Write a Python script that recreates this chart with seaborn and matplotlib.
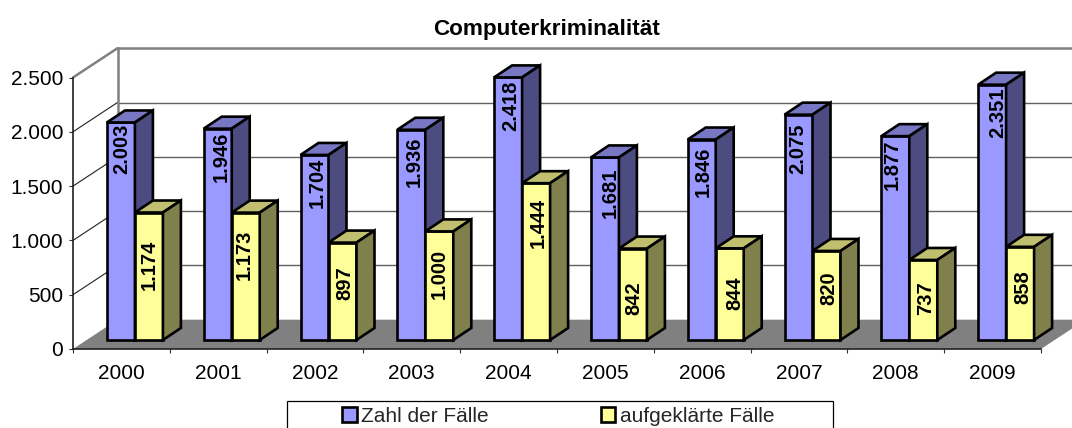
import numpy as np
import pandas as pd
import matplotlib
matplotlib.use('Agg')
import matplotlib.pyplot as plt
from matplotlib.patches import Polygon, Rectangle
import seaborn as sns

# Values
years = ['2000', '2001', '2002', '2003', '2004', '2005', '2006', '2007', '2008', '2009']
faelle = [2003, 1946, 1704, 1936, 2418, 1681, 1846, 2075, 1877, 2351]
aufgeklaert = [1174, 1173, 897, 1000, 1444, 842, 844, 820, 737, 858]
y_ticks = [0, 500, 1000, 1500, 2000, 2500]
series_names = ['Zahl der Fälle', 'aufgeklärte Fälle']

# Label nudges in pixels from the top centre of each bar (x right, y down)
nudge_blue = [(0.5, 26), (3.7, 28), (2.6, 28), (3, 32), (2.3, 28), (5.5, 35), (1.7, 32), (-0.6, 34), (-3, 29), (5.3, 28)]
nudge_yellow = [(0.5, 52), (-1.3, 42), (1.9, 41), (0, 43), (1.8, 40), (0.5, 50), (4.7, 45), (1.9, 37), (2.8, 38), (2.3, 40)]

W, H = 1072, 428
PX_X = 1 / 96.8  # one pixel in category units
PX_Y = 2500 / 271.5  # one pixel in value units

sns.set_theme(style='white')
plt.rcParams['font.family'] = ['Liberation Sans', 'DejaVu Sans']

df = pd.DataFrame({
    'jahr': years * 2,
    'wert': faelle + aufgeklaert,
    'serie': [series_names[0]] * 10 + [series_names[1]] * 10,
})


def fmt(v):
    return f'{v:,}'.replace(',', '.')


fig = plt.figure(figsize=(W / 100, H / 100), dpi=100, facecolor='white')
ax = fig.add_axes([73 / W, (H - 349) / H, 968 / W, 271.5 / H])

ax = sns.barplot(data=df, x='jahr', y='wert', hue='serie', ax=ax, width=0.5785, gap=0,
                 palette=['#9999FF', '#FFFF99'], saturation=1, edgecolor='black',
                 linewidth=1.9, zorder=3)
ax.set_xlim(-0.5, 9.5)
ax.set_ylim(0, 2500)
ax.set_xlabel('')
ax.set_ylabel('')

# Depth of the chart box and of the bars
box_x, box_y = 44.5 * PX_X, 29.3 * PX_Y
off_x, off_y = 13.5 * PX_X, 9 * PX_Y
bar_x, bar_y = 18 * PX_X, 12 * PX_Y

# Floor
ax.add_patch(Polygon([(-0.5, 0), (9.5, 0), (9.5 + box_x, box_y), (-0.5 + box_x, box_y)],
                     facecolor='#808080', edgecolor='none', zorder=1, clip_on=False))

# Back wall and gridlines
for t in y_ticks[1:]:
    top = t == 2500
    ax.plot([-0.5 + box_x, 9.5 + box_x], [t + box_y] * 2, color='#808080' if top else '#606060',
            lw=1.8 if top else 1.0, zorder=1, clip_on=False)
    ax.plot([-0.5, -0.5 + box_x], [t, t + box_y], color='#808080' if top else '#202020',
            lw=1.8 if top else 0.8, zorder=1, clip_on=False)
ax.plot([-0.5 + box_x] * 2, [box_y, 2500 + box_y], color='#808080', lw=1.8, zorder=1, clip_on=False)

# Turn the flat bars into boxes
styles = [('#7777C4', '#4C4C80'), ('#BFBF6F', '#80804C')]
nudges = [nudge_blue, nudge_yellow]
for k, cont in enumerate(ax.containers):
    for i, patch in enumerate(cont.patches):
        patch.set_x(patch.get_x() + off_x)
        patch.set_y(off_y)
        patch.set_zorder(3 + k)
        patch.set_clip_on(False)
        x0, x1 = patch.get_x(), patch.get_x() + patch.get_width()
        y0, y1 = off_y, off_y + patch.get_height()
        top_col, side_col = styles[k]
        ax.add_patch(Polygon([(x0, y1), (x1, y1), (x1 + bar_x, y1 + bar_y), (x0 + bar_x, y1 + bar_y)],
                             facecolor=top_col, edgecolor='black', lw=1.9, joinstyle='miter',
                             zorder=3 + k, clip_on=False))
        ax.add_patch(Polygon([(x1, y0), (x1 + bar_x, y0 + bar_y), (x1 + bar_x, y1 + bar_y), (x1, y1)],
                             facecolor=side_col, edgecolor='black', lw=1.9, joinstyle='miter',
                             zorder=3 + k, clip_on=False))
        ax.annotate(fmt(int(patch.get_height())), xy=((x0 + x1) / 2, y1),
                    xytext=(nudges[k][i][0], -nudges[k][i][1]), textcoords='offset pixels',
                    rotation=90, ha='center', va='center', fontsize=14.5, fontweight='bold',
                    color='black', zorder=6)

# Axes
for s in ['top', 'right']:
    ax.spines[s].set_visible(False)
for s in ['left', 'bottom']:
    ax.spines[s].set_color('#202020')
    ax.spines[s].set_linewidth(1.2)
    ax.spines[s].set_zorder(2)
ax.set_yticks(y_ticks)
ax.set_yticklabels([fmt(t) for t in y_ticks])
ax.set_xticks(np.arange(-0.5, 10), labels=[''] * 11)
ax.set_xticks(np.arange(10), labels=years, minor=True)
ax.tick_params(axis='y', which='major', left=True, length=3.2, width=0.8, color='#303030',
               pad=4, labelsize=15, labelcolor='black')
ax.tick_params(axis='x', which='major', bottom=True, length=3.2, width=0.8, color='#303030')
ax.tick_params(axis='x', which='minor', bottom=False, length=0, pad=11, labelsize=15, labelcolor='black')

# Legend in a frame that runs off the bottom edge
fig.add_artist(Rectangle((286.5 / W, -0.02), 546 / W, (H - 401) / H + 0.02, transform=fig.transFigure,
                         facecolor='white', edgecolor='black', lw=0.9, zorder=-1))
sns.move_legend(ax, loc='center left', bbox_to_anchor=(342 / W, (H - 416) / H),
                bbox_transform=fig.transFigure, ncol=2, frameon=False, title=None, fontsize=15,
                borderpad=0, borderaxespad=0, handlelength=0.7, handleheight=0.7,
                handletextpad=0.2, columnspacing=5.4)
ax.get_legend().set_zorder(10)

fig.text(547 / W, (H - 30) / H, 'Computerkriminalität', ha='center', va='center', fontsize=16.2,
         fontweight='bold', color='black')

plt.savefig('out.png', dpi=100)
